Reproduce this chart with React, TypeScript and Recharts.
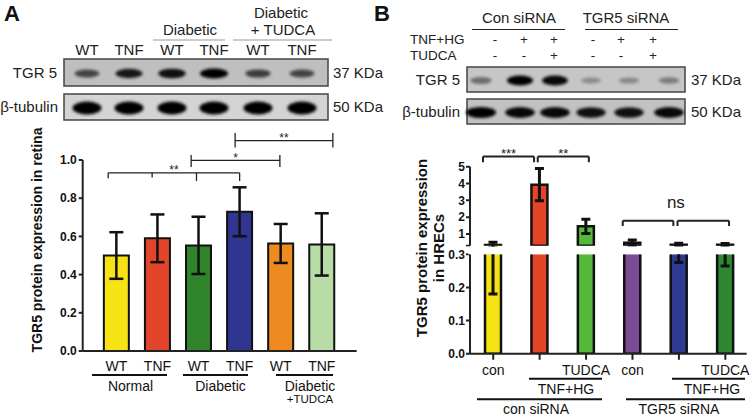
import React from 'react'
import { BarChart, Bar, XAxis, YAxis, ErrorBar, Cell, ReferenceLine } from 'recharts'

const FONT = '"Liberation Sans", Arial, Helvetica, sans-serif'

// Panel A - TGR5 protein expression in retina
const retinaLanes = ['WT', 'TNF', 'WT', 'TNF', 'WT', 'TNF']
const retinaMeans = [0.5, 0.59, 0.553, 0.729, 0.563, 0.558]
const retinaSem = [0.122, 0.125, 0.15, 0.128, 0.102, 0.163]
const retinaColors = ['#f7e314', '#e3452a', '#2f842b', '#2f3590', '#ee8a1f', '#b7dca6']
const retinaTicks = [0, 0.2, 0.4, 0.6, 0.8, 1.0]

// Panel B - TGR5 protein expression in HRECs (broken y axis)
const hrecLanes = ['con', '', 'TUDCA', 'con', '', 'TUDCA']
const hrecMeans = [0.34, 3.93, 1.45, 0.48, 0.36, 0.35]
const hrecSem = [0.16, 0.96, 0.43, 0.16, 0.085, 0.085]
const hrecColors = ['#f5e212', '#e44526', '#55b83a', '#7c4b98', '#2f3a92', '#2f872f']
const hrecTopTicks = [0.3, 1, 2, 3, 4, 5]
const hrecBottomTicks = [0, 0.1, 0.2, 0.3]

// western blot band densities (0..1)
const retinaTgr5Blot = [0.55, 0.85, 0.9, 1, 0.6, 0.55]
const retinaTubulinBlot = [1, 1, 1, 1, 1, 1]
const hrecTgr5Blot = [0.3, 1, 0.95, 0.1, 0.12, 0.2]
const hrecTubulinBlot = [1, 0.95, 0.95, 0.9, 0.9, 0.95]
const hrecTnfHg = ['-', '+', '+', '-', '+', '+']
const hrecTudca = ['-', '-', '+', '-', '-', '+']

// significance brackets, in data units
const retinaBrackets = [
  { x1: -0.2, x2: 3.0, y: 0.933, label: '**', ticks: [[-0.2, 0.905], [0.87, 0.908], [1.95, 0.89], [3.0, 0.89]] },
  { x1: 1.82, x2: 3.98, y: 0.998, label: '*', ticks: [[1.82, 0.963, 1.026], [3.98, 0.963, 1.026]] },
  { x1: 2.89, x2: 5.27, y: 1.101, label: '**', ticks: [[2.89, 1.066, 1.141], [5.27, 1.066, 1.141]] },
]
const hrecBrackets = [
  { x1: -0.22, x2: 0.88, y: 5.6, label: '***', ticks: [[-0.22, 5.26], [0.88, 5.26]] },
  { x1: 0.96, x2: 2.06, y: 5.6, label: '**', ticks: [[0.96, 5.26], [2.06, 5.26]] },
  { x1: 2.79, x2: 3.88, y: 1.79, label: '', ticks: [[2.79, 1.47], [3.88, 1.47]] },
  { x1: 3.97, x2: 5.08, y: 1.79, label: '', ticks: [[3.97, 1.47], [5.08, 1.47]] },
]

type Bracket = { x1: number; x2: number; y: number; label: string; ticks: number[][] }

function bracketLines(list: Bracket[], key: string, sw: number, fontSize: number) {
  const out: React.ReactElement[] = []
  list.forEach((b, i) => {
    out.push(
      <ReferenceLine
        key={`${key}-h${i}`}
        segment={[{ x: b.x1, y: b.y }, { x: b.x2, y: b.y }]}
        stroke="#222"
        strokeWidth={sw}
        ifOverflow="visible"
        label={b.label ? { value: b.label, position: 'top', offset: -1.5, fill: '#222', fontSize } : undefined}
      />
    )
    b.ticks.forEach((t, j) => {
      out.push(
        <ReferenceLine
          key={`${key}-v${i}-${j}`}
          segment={[{ x: t[0], y: t[1] }, { x: t[0], y: t.length > 2 ? t[2] : b.y }]}
          stroke="#222"
          strokeWidth={sw}
          ifOverflow="visible"
        />
      )
    })
  })
  return out
}

const axisStyle = { stroke: '#222', strokeWidth: 2 }
const yTick = { fontSize: 12, fontWeight: 700, fill: '#111' }

function Blot(props: { x: number; y: number; w: number; h: number; fill: string; lanes: number[]; dens: number[]; rx: number; ry: number }) {
  const { x, y, w, h, fill, lanes, dens, rx, ry } = props
  return (
    <g>
      <rect x={x} y={y} width={w} height={h} fill={fill} stroke="#444" strokeWidth={1.5} />
      <g filter="url(#bandBlur)">
        {lanes.map((cx, i) => (
          <ellipse
            key={i}
            cx={cx}
            cy={y + h / 2 + 1}
            rx={rx * (0.75 + 0.25 * dens[i])}
            ry={ry * (0.55 + 0.45 * dens[i])}
            fill="#000"
            opacity={0.22 + 0.78 * dens[i]}
          />
        ))}
      </g>
    </g>
  )
}

export default function App() {
  const retinaData = retinaMeans.map((v, i) => ({ pos: i, value: v, err: retinaSem[i] }))
  const hrecData = hrecMeans.map((v, i) => ({ pos: i, value: v, err: hrecSem[i] }))

  const retinaLaneX = [87, 129, 172, 214, 258, 302]
  const hrecLaneX = [481, 520, 555, 591, 629, 669]
  const hrecSignX = [495, 524, 554, 593, 621, 653]

  return (
    <div style={{ position: 'absolute', left: 0, top: 0, width: 753, height: 417, background: '#fff', fontFamily: FONT, overflow: 'hidden' }}>
      {/* Panel A chart */}
      <div style={{ position: 'absolute', left: 0, top: 0 }}>
        <BarChart width={380} height={417} data={retinaData} margin={{ top: 160, right: 23.3, bottom: 42, left: 37.7 }}>
          <XAxis
            type="number"
            dataKey="pos"
            domain={[-0.82, 5.85]}
            ticks={[0, 1, 2, 3, 4, 5]}
            interval={0}
            tickFormatter={(v: number) => retinaLanes[v]}
            tickLine={false}
            tickSize={0}
            tickMargin={10}
            height={24}
            axisLine={axisStyle}
            tick={{ fontSize: 14, fill: '#111' }}
          />
          <YAxis
            type="number"
            domain={[0, 1]}
            ticks={retinaTicks}
            interval={0}
            allowDataOverflow
            width={45}
            tickSize={4}
            tickMargin={2}
            axisLine={axisStyle}
            tickLine={axisStyle}
            tick={yTick}
            tickFormatter={(v: number) => v.toFixed(1)}
          />
          <Bar dataKey="value" barSize={25} stroke="#111" strokeWidth={2} isAnimationActive={false}>
            {retinaColors.map((c, i) => (
              <Cell key={i} fill={c} />
            ))}
            <ErrorBar dataKey="err" width={7} strokeWidth={2.5} stroke="#111" />
          </Bar>
          {bracketLines(retinaBrackets, 'ra', 1.3, 12)}
        </BarChart>
      </div>

      {/* Panel B chart, upper segment */}
      <div style={{ position: 'absolute', left: 0, top: 0, clipPath: 'polygon(0px 0px, 753px 0px, 753px 246.5px, 0px 246.5px)' }}>
        <BarChart width={753} height={417} data={hrecData} margin={{ top: 166.7, right: 6.3, bottom: 171.3, left: 425 }}>
          <XAxis type="number" dataKey="pos" domain={[-0.5, 5.46]} ticks={[0, 1, 2, 3, 4, 5]} hide />
          <YAxis
            type="number"
            domain={[0.3, 5]}
            ticks={hrecTopTicks}
            interval={0}
            allowDataOverflow
            width={45}
            tickSize={4}
            tickMargin={1}
            axisLine={axisStyle}
            tickLine={axisStyle}
            tick={yTick}
            tickFormatter={(v: number) => (v < 1 ? '' : String(v))}
          />
          <Bar dataKey="value" barSize={16} stroke="#111" strokeWidth={2.5} isAnimationActive={false}>
            {hrecColors.map((c, i) => (
              <Cell key={i} fill={c} />
            ))}
            <ErrorBar dataKey="err" width={4.5} strokeWidth={3} stroke="#111" />
          </Bar>
          {bracketLines(hrecBrackets, 'hb', 2, 13)}
          <ReferenceLine
            segment={[{ x: 2.79, y: 1.79 }, { x: 5.08, y: 1.79 }]}
            stroke="none"
            ifOverflow="visible"
            label={{ value: 'ns', position: 'top', offset: 13, fill: '#222', fontSize: 17 }}
          />
        </BarChart>
      </div>

      {/* Panel B chart, lower segment */}
      <div
        style={{
          position: 'absolute',
          left: 0,
          top: 0,
          clipPath: 'polygon(0px 246px, 468px 246px, 468px 254.3px, 753px 254.3px, 753px 417px, 0px 417px)',
        }}
      >
        <BarChart width={753} height={417} data={hrecData} margin={{ top: 254.3, right: 6.3, bottom: 33.3, left: 425 }}>
          <XAxis
            type="number"
            dataKey="pos"
            domain={[-0.5, 5.46]}
            ticks={[0, 1, 2, 3, 4, 5]}
            interval={0}
            tickFormatter={(v: number) => hrecLanes[v]}
            tickSize={6}
            tickMargin={5}
            height={30}
            axisLine={axisStyle}
            tickLine={axisStyle}
            tick={{ fontSize: 14, fill: '#111' }}
          />
          <YAxis
            type="number"
            domain={[0, 0.3]}
            ticks={hrecBottomTicks}
            interval={0}
            allowDataOverflow
            width={45}
            tickSize={4}
            tickMargin={1}
            axisLine={axisStyle}
            tickLine={axisStyle}
            tick={yTick}
            tickFormatter={(v: number) => v.toFixed(1)}
          />
          <Bar dataKey="value" barSize={16} stroke="#111" strokeWidth={2.5} isAnimationActive={false}>
            {hrecColors.map((c, i) => (
              <Cell key={i} fill={c} />
            ))}
            <ErrorBar dataKey="err" width={4.5} strokeWidth={3} stroke="#111" />
          </Bar>
        </BarChart>
      </div>

      {/* blots, headers and labels */}
      <svg width={753} height={417} style={{ position: 'absolute', left: 0, top: 0, pointerEvents: 'none' }} fontFamily={FONT}>
        <defs>
          <filter id="bandBlur" x="-50%" y="-100%" width="200%" height="300%">
            <feGaussianBlur stdDeviation="1.5" />
          </filter>
        </defs>

        {/* Panel A */}
        <text x={4} y={21} fontSize={22} fontWeight={700} fill="#111">A</text>
        <text x={281} y={18} fontSize={15} textAnchor="middle" fill="#222">Diabetic</text>
        <text x={283} y={35} fontSize={15} textAnchor="middle" fill="#222">+ TUDCA</text>
        <text x={190} y={35} fontSize={15} textAnchor="middle" fill="#222">Diabetic</text>
        <line x1={153} x2={225} y1={40} y2={40} stroke="#999" strokeWidth={1} />
        <line x1={233} x2={332} y1={40} y2={40} stroke="#999" strokeWidth={1} />
        {retinaLanes.map((t, i) => (
          <text key={i} x={retinaLaneX[i]} y={55} fontSize={15} textAnchor="middle" fill="#222">{t}</text>
        ))}
        <Blot x={64} y={59} w={264} h={27} fill="#bfbfbf" lanes={retinaLaneX} dens={retinaTgr5Blot} rx={14} ry={5} />
        <Blot x={64} y={94} w={264} h={26} fill="#d4d4d4" lanes={retinaLaneX} dens={retinaTubulinBlot} rx={14.5} ry={6.5} />
        <text x={57} y={78} fontSize={15} textAnchor="end" fill="#222">TGR 5</text>
        <text x={58} y={112} fontSize={15} textAnchor="end" fill="#222">β-tubulin</text>
        <text x={333} y={78} fontSize={15} fill="#222">37 KDa</text>
        <text x={333} y={112} fontSize={15} fill="#222">50 KDa</text>

        <text transform="translate(42,240) rotate(-90)" fontSize={14} fontWeight={700} textAnchor="middle" fill="#111">
          TGR5 protein expression in retina
        </text>

        <line x1={92} x2={167} y1={375} y2={375} stroke="#111" strokeWidth={2} />
        <line x1={183} x2={248} y1={375} y2={375} stroke="#111" strokeWidth={2} />
        <line x1={276} x2={333} y1={375} y2={375} stroke="#111" strokeWidth={2} />
        <text x={130.5} y={391} fontSize={14} textAnchor="middle" fill="#111">Normal</text>
        <text x={220.5} y={391} fontSize={14} textAnchor="middle" fill="#111">Diabetic</text>
        <text x={310} y={391} fontSize={14} textAnchor="middle" fill="#111">Diabetic</text>
        <text x={310} y={403} fontSize={11.5} textAnchor="middle" fill="#111">+TUDCA</text>

        {/* Panel B */}
        <text x={374} y={21} fontSize={22} fontWeight={700} fill="#111">B</text>
        <text x={519} y={23} fontSize={15} textAnchor="middle" fill="#222">Con siRNA</text>
        <text x={626} y={23} fontSize={15} textAnchor="middle" fill="#222">TGR5 siRNA</text>
        <line x1={472} x2={565} y1={29.5} y2={29.5} stroke="#222" strokeWidth={1.2} />
        <line x1={585} x2={678} y1={29.5} y2={29.5} stroke="#222" strokeWidth={1.2} />
        <text x={410} y={44} fontSize={13.5} fill="#222">TNF+HG</text>
        <text x={410} y={60} fontSize={13.5} fill="#222">TUDCA</text>
        {hrecTnfHg.map((s, i) => (
          <text key={i} x={hrecSignX[i]} y={44} fontSize={13.5} textAnchor="middle" fill="#222">{s}</text>
        ))}
        {hrecTudca.map((s, i) => (
          <text key={i} x={hrecSignX[i]} y={60} fontSize={13.5} textAnchor="middle" fill="#222">{s}</text>
        ))}
        <Blot x={467} y={67} w={218} h={25} fill="#c6c6c6" lanes={hrecLaneX} dens={hrecTgr5Blot} rx={13} ry={5} />
        <Blot x={467} y={99} w={218} h={25} fill="#c2c2c2" lanes={hrecLaneX} dens={hrecTubulinBlot} rx={15} ry={5.5} />
        <text x={460} y={85} fontSize={15} textAnchor="end" fill="#222">TGR 5</text>
        <text x={460} y={117} fontSize={15} textAnchor="end" fill="#222">β-tubulin</text>
        <text x={691} y={85} fontSize={15} fill="#222">37 KDa</text>
        <text x={691} y={117} fontSize={15} fill="#222">50 KDa</text>

        <text transform="translate(427,248) rotate(-90)" fontSize={15} fontWeight={700} textAnchor="middle" fill="#111">
          TGR5 protein expression
        </text>
        <text transform="translate(444,248) rotate(-90)" fontSize={15} fontWeight={700} textAnchor="middle" fill="#111">
          in HRECs
        </text>

        <line x1={529} x2={602} y1={378.7} y2={378.7} stroke="#111" strokeWidth={2} />
        <line x1={672} x2={745} y1={378.7} y2={378.7} stroke="#111" strokeWidth={2} />
        <text x={566} y={394} fontSize={14} textAnchor="middle" fill="#111">TNF+HG</text>
        <text x={712} y={394} fontSize={14} textAnchor="middle" fill="#111">TNF+HG</text>
        <line x1={477} x2={602} y1={399.3} y2={399.3} stroke="#111" strokeWidth={2} />
        <line x1={626} x2={745} y1={399.3} y2={399.3} stroke="#111" strokeWidth={2} />
        <text x={536} y={414} fontSize={14} textAnchor="middle" fill="#111">con siRNA</text>
        <text x={679} y={414} fontSize={14} textAnchor="middle" fill="#111">TGR5 siRNA</text>
      </svg>
    </div>
  )
}
